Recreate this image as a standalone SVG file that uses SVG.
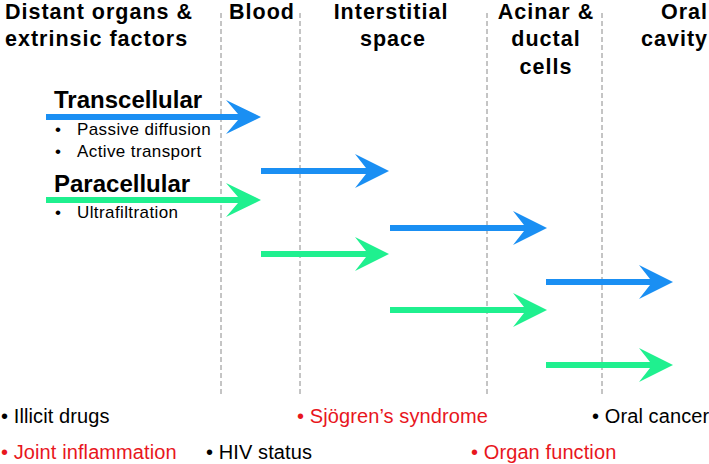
<svg xmlns="http://www.w3.org/2000/svg" width="709" height="464" viewBox="0 0 709 464">
<style>
text{font-family:"Liberation Sans",Arial,Helvetica,sans-serif;fill:#000}
.h{font-weight:bold;font-size:21.5px;letter-spacing:1px}
.lbl{font-weight:bold;font-size:24px}
.it{font-size:17px;letter-spacing:0.4px}
.b{font-size:20px;letter-spacing:0.1px}
.red{fill:#e8161d}
.div{stroke:#8a8a8a;stroke-width:1;stroke-dasharray:5,3;fill:none}
.blue{fill:#1a8ff3}
.green{fill:#1ff08f}
</style>
<rect width="709" height="464" fill="#fff"/>
<g id="dividers">
<line class="div" x1="221" y1="13" x2="221" y2="395"/>
<line class="div" x1="300" y1="13" x2="300" y2="395"/>
<line class="div" x1="487" y1="13" x2="487" y2="395"/>
<line class="div" x1="602" y1="13" x2="602" y2="395"/>
</g>
<g id="headers">
<g id="h-distant"><text class="h" x="5" y="18.5">Distant organs &amp;</text><text class="h" x="5" y="46">extrinsic factors</text></g>
<g id="h-blood"><text class="h" x="262" y="18.5" text-anchor="middle">Blood</text></g>
<g id="h-interstitial"><text class="h" x="391" y="18.5" text-anchor="middle">Interstitial</text><text class="h" x="393" y="46" text-anchor="middle">space</text></g>
<g id="h-acinar"><text class="h" x="546" y="18.5" text-anchor="middle">Acinar &amp;</text><text class="h" x="546" y="46" text-anchor="middle">ductal</text><text class="h" x="546" y="74" text-anchor="middle">cells</text></g>
<g id="h-oral"><text class="h" x="708" y="18.5" text-anchor="end">Oral</text><text class="h" x="708" y="46" text-anchor="end">cavity</text></g>
</g>
<g id="transcellular">
<text class="lbl" x="54" y="108">Transcellular</text>
<text class="it" x="55" y="135">•</text><text class="it" x="77" y="135">Passive diffusion</text>
<text class="it" x="55" y="157">•</text><text class="it" x="77" y="157">Active transport</text>
</g>
<g id="paracellular">
<text class="lbl" x="54" y="192">Paracellular</text>
<text class="it" x="55" y="218">•</text><text class="it" x="77" y="218">Ultrafiltration</text>
</g>
<g id="connectors">
<path class="blue" d="M46,114 H238 L226,100 L261,117 L226,134 L238,120 H46 Z"/>
<path class="green" d="M46,197 H238 L226,183 L261,200 L226,217 L238,203 H46 Z"/>
<path class="blue" d="M261,168 H366 L355,154 L389,171 L355,188 L366,174 H261 Z"/>
<path class="green" d="M261,251 H366 L355,237 L389,254 L355,271 L366,257 H261 Z"/>
<path class="blue" d="M390,225 H524 L513,211 L547,228 L513,245 L524,231 H390 Z"/>
<path class="green" d="M390,307 H524 L513,293 L547,310 L513,327 L524,313 H390 Z"/>
<path class="blue" d="M546,279 H650 L639,265 L673,282 L639,299 L650,285 H546 Z"/>
<path class="green" d="M546,362 H650 L639,348 L673,365 L639,382 L650,368 H546 Z"/>
</g>
<g id="factors">
<g id="f-illicit"><text class="b" x="1" y="423">• Illicit drugs</text></g>
<g id="f-joint"><text class="b red" x="1" y="459">• Joint inflammation</text></g>
<g id="f-hiv"><text class="b" x="206" y="459">• HIV status</text></g>
<g id="f-sjogren"><text class="b red" x="297" y="423">• Sjögren’s syndrome</text></g>
<g id="f-organ"><text class="b red" x="471" y="459">• Organ function</text></g>
<g id="f-oral"><text class="b" x="592" y="423">• Oral cancer</text></g>
</g>
</svg>
